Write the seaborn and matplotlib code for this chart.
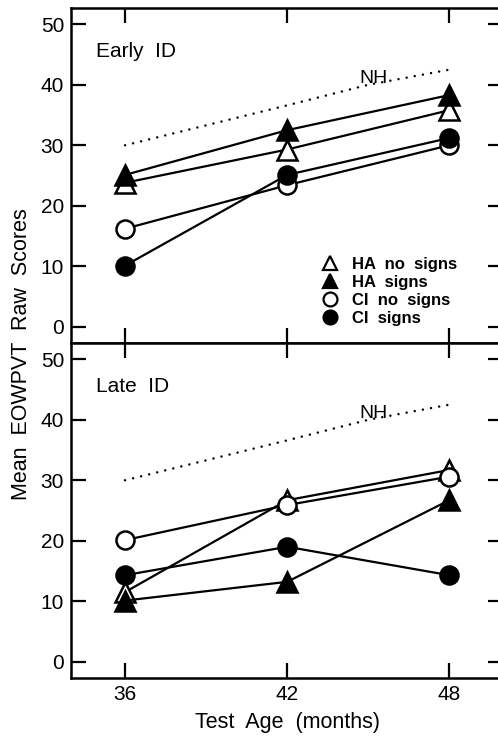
import matplotlib
matplotlib.use('Agg')
import matplotlib.pyplot as plt
import seaborn as sns
import pandas as pd
from matplotlib.lines import Line2D

# 数据
ages = [36, 42, 48]
nh_ages = [36, 42, 45, 48]
nh_scores = [30.0, 36.6, 40.0, 42.5]

early_ha_no = [23.8, 29.3, 35.8]
early_ha_signs = [25.1, 32.5, 38.3]
early_ci_no = [16.2, 23.4, 30.0]
early_ci_signs = [10.1, 25.1, 31.2]

late_ha_no = [11.5, 26.7, 31.7]
late_ha_signs = [10.1, 13.2, 26.7]
late_ci_no = [20.1, 25.9, 30.6]
late_ci_signs = [14.3, 19.0, 14.3]

group_labels = ['HA  no  signs', 'HA  signs', 'CI  no  signs', 'CI  signs']
group_markers = ['^', '^', 'o', 'o']
group_fills = ['white', 'black', 'white', 'black']

panels = [
    ('Early  ID', [early_ha_no, early_ha_signs, early_ci_no, early_ci_signs]),
    ('Late  ID', [late_ha_no, late_ha_signs, late_ci_no, late_ci_signs]),
]

sns.set_style('ticks')
plt.rcParams['font.family'] = ['Liberation Sans', 'DejaVu Sans']
for key in ['text.color', 'axes.labelcolor', 'xtick.color', 'ytick.color',
            'axes.edgecolor']:
    plt.rcParams[key] = 'black'

fig = plt.figure(figsize=(4.98, 7.42), dpi=100)
ax_top = fig.add_axes([0.1426, 0.5377, 0.868, 0.4515])
ax_bot = fig.add_axes([0.1426, 0.0863, 0.868, 0.4514])

for ax, (name, series) in zip([ax_top, ax_bot], panels):
    # NH 参考线
    sns.lineplot(x=nh_ages, y=nh_scores, ax=ax, color='black',
                 linewidth=1.8, linestyle=(0, (0.01, 3.3)),
                 dash_capstyle='round')
    ax.text(45.2, 41.1, 'NH', fontsize=14, ha='center', va='center')

    for vals, mk, fc in zip(series, group_markers, group_fills):
        df = pd.DataFrame({'age': ages, 'score': vals})
        sns.lineplot(data=df, x='age', y='score', ax=ax, color='black',
                     linewidth=1.6, marker=mk, markersize=13 if mk == 'o' else 14,
                     markerfacecolor=fc, markeredgecolor='black',
                     markeredgewidth=1.8)

    ax.text(0.058, 0.87, name, transform=ax.transAxes, fontsize=15,
            ha='left', va='center')

    ax.set_xlim(34, 50)
    ax.set_ylim(-2.7, 52.7)
    ax.set_xticks(ages)
    ax.set_yticks([0, 10, 20, 30, 40, 50])
    ax.tick_params(direction='in', length=11, width=1.6, labelsize=15,
                   top=True, right=True, pad=5)
    for sp in ax.spines.values():
        sp.set_linewidth(1.8)
        sp.set_visible(True)
    ax.set_xlabel('')
    ax.set_ylabel('')

ax_top.tick_params(labelbottom=False)
ax_bot.set_xticklabels([str(a) for a in ages])
ax_bot.set_xlabel('Test  Age  (months)', fontsize=15.5, labelpad=6)

fig.text(0.044, 0.523, 'Mean  EOWPVT  Raw  Scores', rotation=90,
         fontsize=15.5, ha='center', va='center')

handles = [Line2D([], [], linestyle='none', marker=mk, markersize=10,
                  markerfacecolor=fc, markeredgecolor='black',
                  markeredgewidth=1.6)
           for mk, fc in zip(group_markers, group_fills)]
ax_top.legend(handles, group_labels, loc='upper left',
              bbox_to_anchor=(0.581, 0.257), frameon=False,
              prop={'size': 12, 'weight': 'bold'}, handlelength=1.0,
              handletextpad=0.8, labelspacing=0.18, borderpad=0,
              borderaxespad=0)

fig.savefig('out.png', dpi=100)
